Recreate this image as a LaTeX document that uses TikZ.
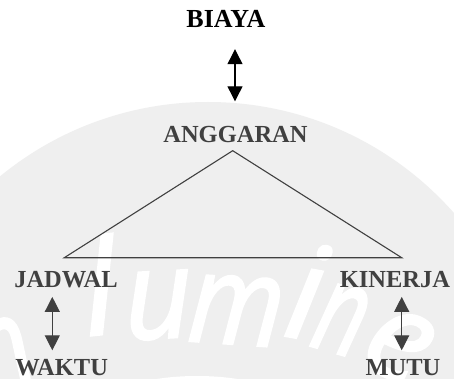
\documentclass[tikz,border=0pt]{standalone}
\usepackage{fontspec}
\setmainfont{Liberation Serif}
\newfontfamily\wmfont{Open Sans}[FakeBold=2]
\usetikzlibrary{arrows.meta}
\definecolor{veil}{gray}{0.937}
\definecolor{ink}{gray}{0.25}
\tikzset{
  term/.style={font=\bfseries\fontsize{24.5}{24.5}\selectfont, inner sep=0pt,
    anchor=base, text height=16.5pt, text depth=0pt},
  link/.style={line width=1.2pt,
    {Triangle[length=15pt,width=15pt]}-{Triangle[length=15pt,width=15pt]}},
  side/.style={line width=1.1pt, ink, line join=miter},
  wm/.style={text=white, font=\wmfont\itshape\fontsize{124pt}{124pt}\selectfont,
    inner sep=0pt, anchor=base},
  wmtall/.style={wm, font=\wmfont\itshape\fontsize{130pt}{130pt}\selectfont}
}
\begin{document}
\begin{tikzpicture}[x=1pt, y=-1pt]
  \useasboundingbox (0,0) rectangle (454,379);
  \clip (0,0) rectangle (454,379);
  \fill[white] (0,0) rectangle (454,379);

  % watermark seal in the background
  \fill[veil] (208,430) circle[radius=328pt];
  \fill[white] (197,398) ellipse[x radius=80pt, y radius=22pt];
  \node[wm, rotate=22, xscale=.8]      (w1) at (16,386)  {n};
  \node[wmtall, rotate=6]              (w2) at (104,334) {l};
  \node[wm, rotate=3, xscale=.95]      (w3) at (160,338) {u};
  \node[wm, rotate=-4, xscale=.88]     (w4) at (234,344) {m};
  \node[wmtall, rotate=-10]            (w5) at (298,338) {i};
  \node[wm, rotate=-16, xscale=.7]     (w6) at (332,352) {n};
  \node[wm, rotate=-26]                (w7) at (384,375) {e};

  % terms
  \node[term, font=\bfseries\fontsize{26}{26}\selectfont] (biaya) at (226,28) {BIAYA};
  \node[term, ink] (anggaran) at (235.5,143) {ANGGARAN};
  \node[term, ink] (jadwal)   at (66,287.3)  {JADWAL};
  \node[term, ink] (kinerja)  at (395,287.3) {KINERJA};
  \node[term, ink] (waktu)    at (61.7,375)  {WAKTU};
  \node[term, ink] (mutu)     at (403,375)   {MUTU};

  % corners of the triangle
  \coordinate (apex) at (232.7,150.7);
  \coordinate (lc)   at (64.3,257.7);
  \coordinate (rc)   at (401.7,257.7);
  \draw[side] (apex) -- (lc) -- (rc) -- cycle;

  % two-way links
  \draw[link, shorten <=21pt, shorten >=25pt]
    ([xshift=9pt]biaya.south) -- ([xshift=-0.5pt]anggaran.north);
  \draw[link, ink, shorten <=9.4pt, shorten >=8pt]
    ([xshift=-13.7pt]jadwal.south) -- ([xshift=-9.4pt]waktu.north);
  \draw[link, ink, shorten <=9.4pt, shorten >=8pt]
    ([xshift=6.7pt]kinerja.south) -- ([xshift=-1.3pt]mutu.north);
\end{tikzpicture}
\end{document}
